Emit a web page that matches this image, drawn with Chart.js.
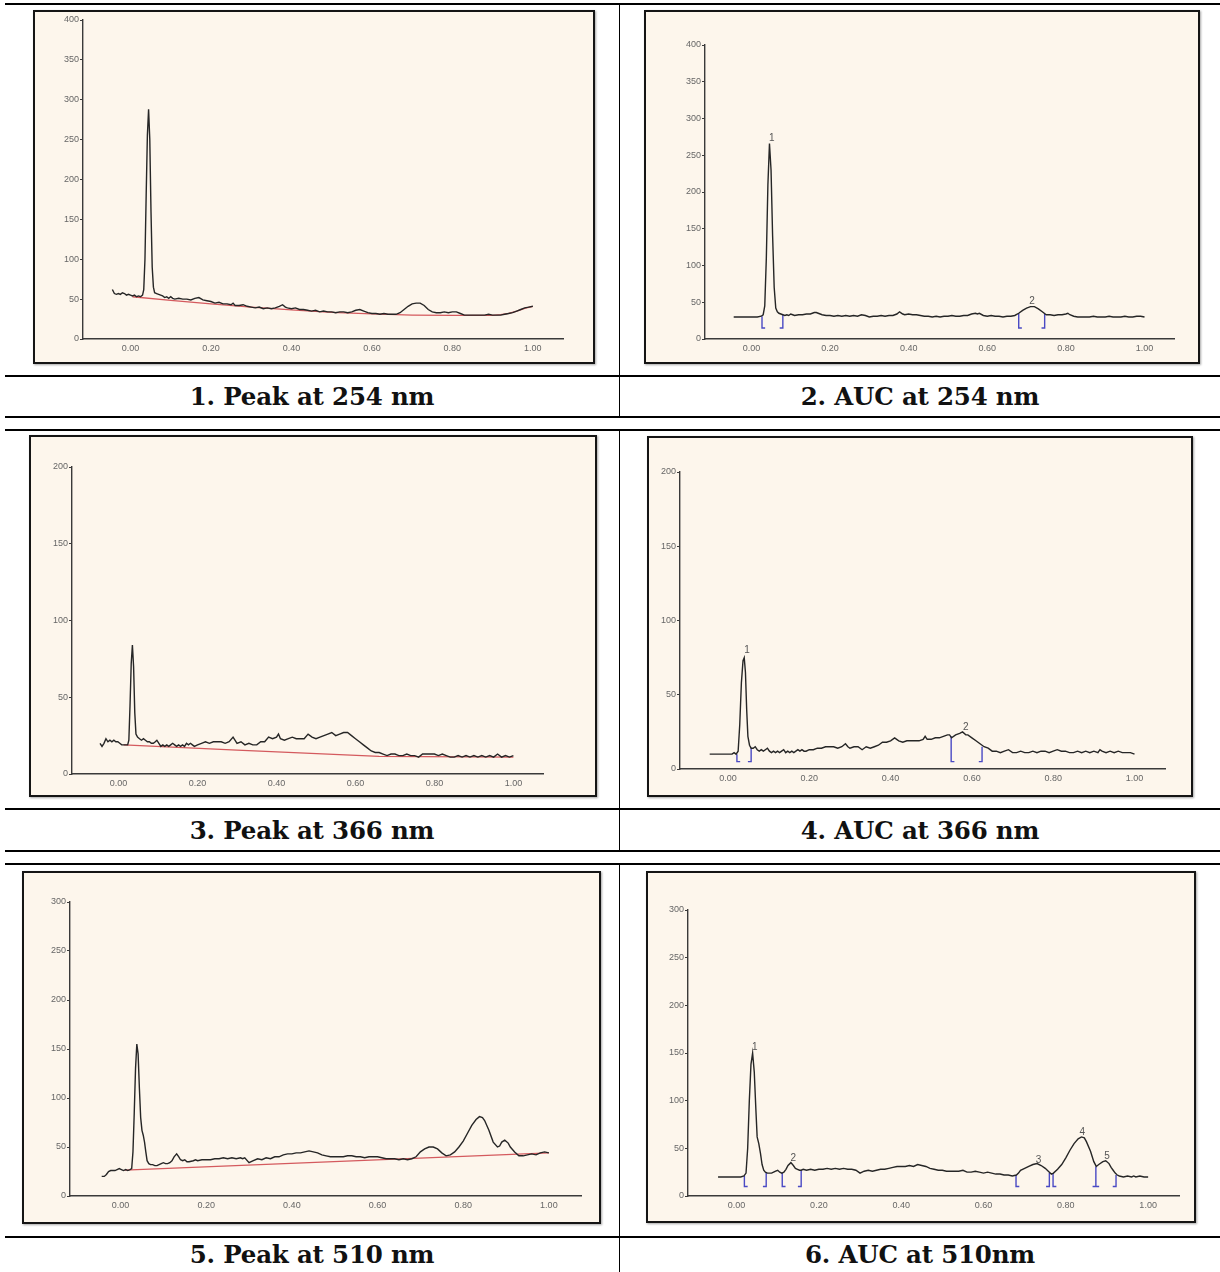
<!DOCTYPE html>
<html>
<head>
<meta charset="utf-8">
<script src="https://cdn.jsdelivr.net/npm/chart.js@4.4.1/dist/chart.umd.min.js"></script>
<style>
  html, body { margin: 0; padding: 0; background: #fff; }
  body { width: 1220px; height: 1272px; position: relative; overflow: hidden; }
  .hline { position: absolute; left: 5px; width: 1215px; height: 2px; background: #000; }
  .vline { position: absolute; left: 619px; width: 1px; background: #000; }
  .panel { position: absolute; box-sizing: border-box; border: 2px solid #151515; background: #fdf6ec;
           box-shadow: 1px 1px 2px rgba(0,0,0,0.35); }
  .panel canvas { position: absolute; left: 0; top: 0; }
  .cap { position: absolute; height: 30px; line-height: 30px; text-align: center;
         font-family: "DejaVu Serif", serif; font-weight: bold; font-size: 24.5px; color: #111;
         letter-spacing: -0.2px; }
</style>
</head>
<body>

<div class="hline" style="top:3px"></div>
<div class="hline" style="top:375px"></div>
<div class="hline" style="top:416px"></div>
<div class="hline" style="top:429px"></div>
<div class="hline" style="top:808px"></div>
<div class="hline" style="top:850px"></div>
<div class="hline" style="top:863px"></div>
<div class="hline" style="top:1236px"></div>
<div class="vline" style="top:4px;height:413px"></div>
<div class="vline" style="top:430px;height:421px"></div>
<div class="vline" style="top:864px;height:408px"></div>

<div class="panel" id="box1"><canvas id="c1"></canvas></div>
<div class="panel" id="box2"><canvas id="c2"></canvas></div>
<div class="panel" id="box3"><canvas id="c3"></canvas></div>
<div class="panel" id="box4"><canvas id="c4"></canvas></div>
<div class="panel" id="box5"><canvas id="c5"></canvas></div>
<div class="panel" id="box6"><canvas id="c6"></canvas></div>

<div class="cap" style="left:5px;width:614px;top:382px">1. Peak at 254 nm</div>
<div class="cap" style="left:620px;width:600px;top:382px">2. AUC at 254 nm</div>
<div class="cap" style="left:5px;width:614px;top:816px">3. Peak at 366 nm</div>
<div class="cap" style="left:620px;width:600px;top:816px">4. AUC at 366 nm</div>
<div class="cap" style="left:5px;width:614px;top:1240px">5. Peak at 510 nm</div>
<div class="cap" style="left:620px;width:600px;top:1240px">6. AUC at 510nm</div>

<script>
// Rf ticks shared by all six densitograms
var rfTicks = [0, 0.2, 0.4, 0.6, 0.8, 1.0];
var auTicks400 = [0, 50, 100, 150, 200, 250, 300, 350, 400];
var auTicks300 = [0, 50, 100, 150, 200, 250, 300];
var auTicks200 = [0, 50, 100, 150, 200];

// 1. Peak at 254 nm
var rf254peak = [-0.045,-0.04,-0.035,-0.03,-0.025,-0.02,-0.015,-0.01,-0.005,0,0.005,0.01,0.015,0.02,0.025,0.03,0.033,0.036,0.039,0.042,0.045,0.048,0.051,0.054,0.057,0.06,0.065,0.07,0.075,0.08,0.085,0.09,0.095,0.1,0.105,0.11,0.12,0.13,0.14,0.15,0.16,0.17,0.18,0.19,0.2,0.21,0.22,0.23,0.24,0.25,0.255,0.26,0.27,0.28,0.29,0.3,0.31,0.32,0.33,0.34,0.35,0.36,0.37,0.378,0.385,0.39,0.4,0.41,0.42,0.43,0.44,0.45,0.46,0.47,0.48,0.49,0.5,0.51,0.52,0.53,0.54,0.55,0.56,0.57,0.58,0.59,0.6,0.61,0.62,0.63,0.64,0.65,0.66,0.67,0.68,0.69,0.7,0.71,0.72,0.73,0.74,0.75,0.76,0.77,0.78,0.79,0.8,0.81,0.82,0.83,0.84,0.85,0.86,0.87,0.88,0.89,0.9,0.91,0.92,0.93,0.94,0.95,0.96,0.97,0.98,0.99,1.0];
var au254peak = [62,57,56,57,56,58,57,55,56,55,54,55,53,54,53,55,62,100,180,255,288,250,160,90,65,58,57,56,55,54,52,53,51,53,51,50,51,50,50,49,51,52,49,48,47,45,46,44,44,43,45,42,42,43,41,40,39,40,38,39,38,39,41,43,40,39,38,39,37,37,36,35,36,34,35,34,34,33,34,34,33,34,36,37,35,33,32,32,31,32,31,31,31,33,37,41,44,45,45,42,37,34,33,33,34,33,34,34,32,30,30,30,30,30,30,31,30,30,30,31,32,33,35,37,39,40,41];
var rf254base = [0.005,0.1,0.2,0.3,0.4,0.5,0.6,0.7,0.8,0.9,0.92,0.94,0.96,0.98,1.0];
var au254base = [53,48.5,44,40,36.5,33.5,31.5,30,29.5,29.5,30.5,32,35,38.5,41];

// 2. AUC at 254 nm
var rf254auc = [-0.045,-0.03,-0.015,0,0.015,0.025,0.03,0.034,0.038,0.042,0.046,0.05,0.054,0.058,0.062,0.066,0.07,0.075,0.08,0.085,0.09,0.095,0.1,0.105,0.11,0.12,0.13,0.14,0.15,0.16,0.165,0.17,0.18,0.19,0.2,0.21,0.22,0.23,0.24,0.25,0.26,0.27,0.28,0.29,0.3,0.31,0.32,0.33,0.34,0.35,0.36,0.37,0.377,0.385,0.39,0.4,0.41,0.42,0.43,0.44,0.45,0.46,0.47,0.48,0.49,0.5,0.51,0.52,0.53,0.54,0.55,0.56,0.57,0.575,0.58,0.59,0.6,0.61,0.62,0.63,0.64,0.65,0.66,0.67,0.68,0.69,0.7,0.71,0.72,0.73,0.74,0.75,0.76,0.77,0.78,0.79,0.8,0.805,0.81,0.82,0.83,0.84,0.85,0.86,0.87,0.88,0.89,0.9,0.91,0.92,0.93,0.94,0.95,0.96,0.97,0.98,0.99,1.0];
var au254auc = [30,30,30,30,30,31,33,45,110,210,266,230,140,70,42,37,35,34,33,32,33,32,34,33,32,33,33,34,34,36,36,35,33,32,32,31,32,31,32,31,32,31,33,32,30,31,31,32,31,32,32,34,37,34,33,34,33,33,32,31,31,30,31,30,31,31,32,31,31,32,32,34,35,34,35,32,31,32,31,31,30,31,31,32,35,39,42,44,44,41,37,33,33,32,33,33,34,35,33,31,30,30,30,30,31,30,30,30,31,30,30,30,31,30,30,31,31,30];
var edge254x = [0.027, 0.08, 0.68, 0.746];
var edge254top = [31, 33, 35, 34];
var edge254side = [1, -1, 1, -1];
var apex254x = [0.052, 0.714];
var apex254y = [273, 52];

// 3. Peak at 366 nm
var rf366peak = [-0.047,-0.042,-0.037,-0.032,-0.027,-0.022,-0.017,-0.012,-0.007,-0.002,0.003,0.008,0.013,0.018,0.023,0.026,0.029,0.032,0.035,0.038,0.041,0.044,0.048,0.053,0.058,0.063,0.068,0.073,0.078,0.083,0.088,0.093,0.097,0.102,0.107,0.112,0.117,0.122,0.127,0.132,0.137,0.142,0.147,0.152,0.157,0.162,0.167,0.172,0.177,0.182,0.187,0.192,0.2,0.21,0.22,0.23,0.24,0.25,0.26,0.27,0.28,0.29,0.3,0.31,0.32,0.33,0.34,0.35,0.36,0.37,0.38,0.39,0.4,0.405,0.41,0.42,0.43,0.44,0.45,0.46,0.47,0.48,0.49,0.5,0.51,0.52,0.53,0.54,0.55,0.56,0.57,0.58,0.59,0.6,0.61,0.62,0.63,0.64,0.65,0.66,0.67,0.68,0.69,0.7,0.71,0.72,0.73,0.74,0.75,0.76,0.77,0.78,0.79,0.8,0.81,0.82,0.83,0.84,0.85,0.86,0.87,0.88,0.89,0.9,0.91,0.92,0.93,0.94,0.95,0.96,0.97,0.98,0.99,1.0];
var au366peak = [20,18,20,23,21,22,21,22,21,21,20,19,19,19,19,22,45,72,84,70,40,26,24,23,22,23,22,21,21,20,20,21,22,20,18,19,18,19,18,19,20,19,18,19,18,19,18,20,19,20,19,18,19,20,21,20,21,21,21,20,21,24,20,21,19,20,19,19,21,21,24,23,24,26,23,22,23,24,23,23,23,26,24,23,24,25,26,27,25,26,27,27,25,23,21,19,17,15,14,14,13,12,13,13,12,12,13,12,12,11,13,13,13,13,12,13,12,11,11,12,11,12,11,12,11,12,11,12,11,13,11,12,11,12];
var rf366base = [0.013, 0.3, 0.66, 1.0];
var au366base = [19, 15.5, 11.5, 11];

// 4. AUC at 366 nm
var rf366auc = [-0.045,-0.03,-0.015,0,0.01,0.015,0.02,0.025,0.029,0.033,0.037,0.04,0.043,0.046,0.049,0.053,0.057,0.062,0.067,0.072,0.077,0.082,0.087,0.092,0.097,0.102,0.107,0.112,0.117,0.122,0.127,0.132,0.137,0.142,0.147,0.152,0.157,0.162,0.167,0.172,0.177,0.182,0.187,0.192,0.2,0.21,0.22,0.23,0.24,0.25,0.26,0.27,0.28,0.289,0.295,0.3,0.31,0.32,0.33,0.34,0.35,0.36,0.37,0.38,0.39,0.4,0.41,0.42,0.43,0.44,0.45,0.46,0.47,0.48,0.485,0.49,0.5,0.51,0.52,0.53,0.54,0.545,0.55,0.56,0.57,0.577,0.585,0.59,0.6,0.61,0.62,0.63,0.64,0.65,0.66,0.67,0.68,0.69,0.7,0.71,0.72,0.73,0.74,0.75,0.76,0.77,0.78,0.79,0.8,0.81,0.82,0.83,0.84,0.85,0.86,0.87,0.88,0.89,0.9,0.91,0.915,0.92,0.93,0.94,0.95,0.96,0.97,0.98,0.99,1.0];
var au366auc = [10,10,10,10,10,11,10,12,30,58,73,75,65,40,22,16,14,14,15,13,12,13,12,13,14,12,11,12,11,12,11,12,13,11,12,11,12,11,12,13,12,13,12,12,13,13,14,14,15,15,15,14,15,17,15,14,15,15,13,15,14,15,16,18,18,19,21,19,18,19,19,19,19,20,22,20,20,21,21,22,23,23,21,23,24,25,23,23,21,19,17,15,14,12,12,11,12,13,11,11,12,11,11,12,11,12,12,11,12,13,12,12,11,11,12,11,12,11,12,11,13,12,11,12,11,12,11,11,11,10];
var edge366x = [0.022, 0.057, 0.549, 0.625];
var edge366top = [10, 14, 22, 15];
var edge366side = [1, -1, 1, -1];
var apex366x = [0.047, 0.585];
var apex366y = [80, 28];

// 5. Peak at 510 nm
var rf510peak = [-0.044,-0.038,-0.033,-0.028,-0.023,-0.018,-0.013,-0.008,-0.003,0.002,0.007,0.012,0.017,0.022,0.026,0.029,0.032,0.035,0.038,0.041,0.044,0.047,0.05,0.053,0.056,0.059,0.062,0.066,0.07,0.075,0.08,0.085,0.09,0.095,0.1,0.105,0.11,0.115,0.12,0.125,0.131,0.136,0.14,0.145,0.15,0.155,0.16,0.17,0.175,0.18,0.19,0.2,0.21,0.22,0.23,0.24,0.25,0.26,0.27,0.28,0.285,0.29,0.3,0.31,0.32,0.33,0.34,0.35,0.36,0.37,0.38,0.39,0.4,0.41,0.42,0.43,0.44,0.45,0.46,0.47,0.48,0.49,0.5,0.51,0.52,0.53,0.54,0.55,0.56,0.57,0.58,0.59,0.6,0.61,0.62,0.63,0.64,0.65,0.66,0.67,0.68,0.69,0.7,0.71,0.72,0.73,0.74,0.75,0.76,0.77,0.78,0.79,0.8,0.81,0.82,0.83,0.838,0.845,0.85,0.86,0.87,0.88,0.885,0.89,0.897,0.905,0.91,0.92,0.93,0.94,0.95,0.96,0.97,0.98,0.99,1.0];
var au510peak = [20,20,22,25,26,26,26,27,28,27,26,27,26,27,28,45,85,130,155,145,110,80,67,62,55,45,36,33,32,32,31,31,32,33,34,33,33,34,36,40,43,40,37,36,37,35,35,36,37,36,37,37,37,38,38,39,38,39,38,39,38,39,34,36,38,37,39,38,40,40,42,43,43,44,44,45,46,45,44,42,41,40,40,40,40,41,41,40,40,39,40,40,40,39,38,38,38,37,38,37,38,40,45,48,50,50,48,44,41,42,45,50,56,64,72,78,81,80,77,67,55,50,51,55,57,54,50,45,41,41,42,43,42,44,45,44];
var rf510base = [0.01, 1.0];
var au510base = [26.5, 44];

// 6. AUC at 510 nm
var rf510auc = [-0.045,-0.03,-0.015,0,0.01,0.018,0.023,0.027,0.031,0.035,0.039,0.043,0.047,0.05,0.054,0.058,0.062,0.066,0.07,0.075,0.08,0.085,0.09,0.095,0.1,0.105,0.11,0.115,0.12,0.125,0.132,0.138,0.143,0.148,0.153,0.157,0.162,0.17,0.18,0.19,0.2,0.21,0.22,0.23,0.24,0.25,0.26,0.27,0.28,0.29,0.3,0.31,0.32,0.33,0.34,0.35,0.36,0.37,0.38,0.39,0.4,0.41,0.42,0.43,0.44,0.45,0.46,0.47,0.48,0.49,0.5,0.51,0.52,0.53,0.54,0.55,0.56,0.57,0.58,0.59,0.6,0.61,0.62,0.63,0.64,0.65,0.66,0.67,0.68,0.685,0.69,0.7,0.71,0.72,0.73,0.74,0.75,0.76,0.765,0.77,0.78,0.79,0.8,0.81,0.82,0.83,0.838,0.845,0.85,0.86,0.868,0.874,0.88,0.89,0.897,0.905,0.91,0.915,0.92,0.925,0.93,0.94,0.95,0.96,0.965,0.97,0.98,0.99,1.0];
var au510auc = [20,20,20,20,20,21,24,50,100,138,150,130,90,62,55,45,33,27,25,24,24,24,25,26,27,25,24,25,28,32,35,32,29,28,27,27,28,27,28,27,28,28,29,28,29,28,29,28,28,27,24,26,27,26,27,28,28,29,30,31,31,31,32,31,33,32,31,29,28,27,27,26,26,26,26,27,25,25,26,25,24,25,24,23,23,22,22,21,22,24,27,29,31,33,34,32,29,25,23,24,28,33,40,48,55,60,62,61,57,47,36,31,33,36,37,34,30,27,24,22,21,20,21,20,21,20,21,20,20];
var edge510x = [0.019, 0.072, 0.111, 0.157, 0.679, 0.760, 0.769, 0.873, 0.873, 0.922];
var edge510top = [21, 24, 24, 27, 22, 24, 24, 31, 31, 22];
var edge510side = [1, -1, 1, -1, 1, -1, 1, -1, 1, -1];
var apex510x = [0.044, 0.138, 0.734, 0.84, 0.9];
var apex510y = [156, 40, 38, 67, 42];

var tickFont = { family: '"Liberation Sans", Arial, sans-serif', size: 9 };

function pts(xs, ys) {
  return xs.map(function(x, i) { return { x: x, y: ys[i] }; });
}

// integration window markers: [ on the left edge, ] on the right edge
function edgePts(xs, tops, sides, floor) {
  var out = [];
  xs.forEach(function(x, i) {
    out.push({ x: x, y: tops[i] });
    out.push({ x: x, y: floor });
    out.push({ x: x + sides[i] * 0.008, y: floor });
    out.push({ x: x, y: null });
  });
  return out;
}

var apexLabels = {
  id: 'apexLabels',
  afterDatasetsDraw: function(chart, args, opts) {
    if (!opts.xs) return;
    var ctx = chart.ctx, sx = chart.scales.x, sy = chart.scales.y;
    ctx.save();
    ctx.font = '10px "Liberation Sans", Arial, sans-serif';
    ctx.fillStyle = '#555';
    ctx.textAlign = 'center';
    ctx.textBaseline = 'middle';
    opts.xs.forEach(function(v, i) {
      ctx.fillText(String(i + 1), sx.getPixelForValue(v), sy.getPixelForValue(opts.ys[i]));
    });
    ctx.restore();
  }
};

function makeChart(n, box, area, ymax, yTicks, datasets, labels) {
  var div = document.getElementById('box' + n);
  div.style.left = box[0] + 'px'; div.style.top = box[1] + 'px';
  div.style.width = box[2] + 'px'; div.style.height = box[3] + 'px';
  var cv = document.getElementById('c' + n);
  var cw = box[2] - 4, ch = box[3] - 4;
  cv.width = cw; cv.height = ch;
  cv.style.width = cw + 'px'; cv.style.height = ch + 'px';
  var ox = box[0] + 2, oy = box[1] + 2;
  var YW = 28, XH = 18;
  var left = area[0] - ox, right = area[1] - ox, top = area[2] - oy, bottom = area[3] - oy;

  new Chart(cv, {
    type: 'line',
    data: { datasets: datasets },
    plugins: [apexLabels],
    options: {
      responsive: false,
      animation: false,
      devicePixelRatio: 1,
      parsing: false,
      normalized: true,
      layout: { padding: { left: left - YW, right: cw - right, top: top, bottom: ch - bottom - XH } },
      elements: { point: { radius: 0 }, line: { tension: 0, fill: false } },
      plugins: {
        legend: { display: false },
        tooltip: { enabled: false },
        apexLabels: labels || {}
      },
      scales: {
        x: {
          type: 'linear', min: -0.118, max: 1.075,
          afterFit: function(s) { s.height = XH; },
          afterBuildTicks: function(s) { s.ticks = rfTicks.map(function(v) { return { value: v }; }); },
          ticks: { font: tickFont, color: '#666', padding: 4, maxRotation: 0, autoSkip: false,
                   callback: function(v) { return Number(v).toFixed(2); } },
          grid: { display: false, drawTicks: false },
          border: { display: true, color: '#3a3a3a', width: 1.4 }
        },
        y: {
          type: 'linear', min: 0, max: ymax,
          afterFit: function(s) { s.width = YW; },
          afterBuildTicks: function(s) { s.ticks = yTicks.map(function(v) { return { value: v }; }); },
          ticks: { font: tickFont, color: '#666', padding: 1 },
          grid: { display: true, drawOnChartArea: false, drawTicks: true, tickLength: 3, color: '#3a3a3a', lineWidth: 1 },
          border: { display: true, color: '#3a3a3a', width: 1.4 }
        }
      }
    }
  });
}

var traceStyle = { borderColor: '#262626', borderWidth: 1.4 };
var baseStyle = { borderColor: '#d45a5e', borderWidth: 1.3 };
var edgeStyle = { borderColor: '#4a4ac4', borderWidth: 1.4, spanGaps: false };

function ds(style, data) {
  return Object.assign({ data: data, pointRadius: 0 }, style);
}

makeChart(1, [33, 10, 562, 354], [83, 563, 20, 339], 400, auTicks400, [
  ds(traceStyle, pts(rf254peak, au254peak)),
  ds(baseStyle, pts(rf254base, au254base))
]);

makeChart(2, [644, 10, 556, 354], [705, 1174, 45, 339], 400, auTicks400, [
  ds(traceStyle, pts(rf254auc, au254auc)),
  ds(edgeStyle, edgePts(edge254x, edge254top, edge254side, 15))
], { xs: apex254x, ys: apex254y });

makeChart(3, [29, 435, 568, 362], [72, 543, 467, 774], 200, auTicks200, [
  ds(traceStyle, pts(rf366peak, au366peak)),
  ds(baseStyle, pts(rf366base, au366base))
]);

makeChart(4, [647, 436, 546, 361], [680, 1165, 472, 769], 200, auTicks200, [
  ds(traceStyle, pts(rf366auc, au366auc)),
  ds(edgeStyle, edgePts(edge366x, edge366top, edge366side, 5))
], { xs: apex366x, ys: apex366y });

makeChart(5, [22, 871, 579, 353], [70, 581, 902, 1196], 300, auTicks300, [
  ds(traceStyle, pts(rf510peak, au510peak)),
  ds(baseStyle, pts(rf510base, au510base))
]);

makeChart(6, [646, 871, 550, 352], [688, 1179, 910, 1196], 300, auTicks300, [
  ds(traceStyle, pts(rf510auc, au510auc)),
  ds(edgeStyle, edgePts(edge510x, edge510top, edge510side, 10))
], { xs: apex510x, ys: apex510y });
</script>
</body>
</html>
